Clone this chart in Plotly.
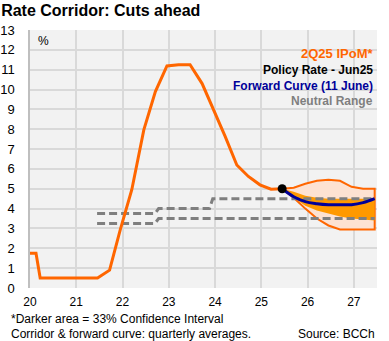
import plotly.graph_objects as go

# ---- data ----
policy_x = [2020.0, 2020.13, 2020.22, 2021.46, 2021.72, 2021.95, 2022.2, 2022.46, 2022.71,
            2022.96, 2023.21, 2023.46, 2023.72, 2023.97, 2024.22, 2024.47, 2024.72, 2024.97,
            2025.21, 2025.45]
policy_y = [1.75, 1.75, 0.5, 0.5, 0.9, 2.93, 4.95, 7.97, 9.9,
            11.19, 11.25, 11.25, 10.3, 8.98, 7.63, 6.2, 5.62, 5.2,
            4.98, 5.0]

fan_x = [2025.45, 2025.7, 2025.95, 2026.2, 2026.45, 2026.7, 2026.95, 2027.2, 2027.45]
outer_hi = [5.0, 5.05, 5.25, 5.4, 5.45, 5.4, 5.1, 5.0, 5.0]
outer_lo = [5.0, 4.55, 4.0, 3.5, 3.15, 2.95, 2.95, 2.95, 2.95]
inner_hi = [5.0, 4.85, 4.65, 4.55, 4.5, 4.5, 4.5, 4.5, 4.55]
inner_lo = [5.0, 4.55, 4.15, 3.9, 3.75, 3.6, 3.5, 3.45, 3.4]
forward_y = [5.0, 4.6, 4.35, 4.25, 4.2, 4.2, 4.2, 4.3, 4.5]

neutral_hi_x = [2021.45, 2022.7, 2022.78, 2023.88, 2023.95, 2027.45]
neutral_hi_y = [3.75, 3.75, 4.0, 4.0, 4.5, 4.5]
neutral_lo_x = [2021.45, 2022.7, 2022.78, 2027.45]
neutral_lo_y = [3.25, 3.25, 3.5, 3.5]

jun25_x = [2025.45]
jun25_y = [5.0]

year_ticks = [2020, 2021, 2022, 2023, 2024, 2025, 2026, 2027]
year_labels = ["20", "21", "22", "23", "24", "25", "26", "27"]
y_ticks = list(range(0, 14))

ORANGE = "#FF6600"
FONT = "Liberation Sans"

fig = go.Figure()

# outer fan
fig.add_trace(go.Scatter(
    x=fan_x + fan_x[::-1], y=outer_hi + outer_lo[::-1],
    fill="toself", fillcolor="#FDE2D2", mode="lines",
    line=dict(color=ORANGE, width=2), hoverinfo="skip", showlegend=False))
# inner fan
fig.add_trace(go.Scatter(
    x=fan_x + fan_x[::-1], y=inner_hi + inner_lo[::-1],
    fill="toself", fillcolor="#FF9900", mode="lines",
    line=dict(color="rgba(0,0,0,0)", width=0), hoverinfo="skip", showlegend=False))
# neutral range
for xs, ys in [(neutral_hi_x, neutral_hi_y), (neutral_lo_x, neutral_lo_y)]:
    fig.add_trace(go.Scatter(x=xs, y=ys, mode="lines",
                             line=dict(color="#7F7F7F", width=3, dash="8px,4px"),
                             showlegend=False))
# policy path
fig.add_trace(go.Scatter(x=policy_x, y=policy_y, mode="lines",
                         line=dict(color=ORANGE, width=3), showlegend=False))
# forward curve
fig.add_trace(go.Scatter(x=fan_x, y=forward_y, mode="lines",
                         line=dict(color="#000099", width=3, shape="spline"),
                         showlegend=False))
# current policy rate
fig.add_trace(go.Scatter(x=jun25_x, y=jun25_y, mode="markers",
                         marker=dict(color="black", size=9), showlegend=False))

top, bot = 30.0, 288.3
H = bot - top
L, R = 29.5, 376.7
W = R - L
def py(p):
    return (bot - p) / H
def px(p):
    return (p - L) / W

ann = []
legend_items = [("2Q25 IPoM*", ORANGE, 53.5, 13), ("Policy Rate - Jun25", "black", 70, 12),
                ("Forward Curve (11 June)", "#000099", 86, 12),
                ("Neutral Range", "#7F7F7F", 101.5, 12)]
for txt, col, p, fs in legend_items:
    ann.append(dict(text="<b>%s</b>" % txt, x=1, xshift=-2, xanchor="right",
                    y=py(p), yanchor="middle", xref="paper", yref="paper",
                    showarrow=False, font=dict(family=FONT, size=fs, color=col)))
ann.append(dict(text="%", x=px(36), xanchor="left", y=py(41), yanchor="middle",
                xref="paper", yref="paper", showarrow=False,
                font=dict(family=FONT, size=12, color="black")))
ann.append(dict(text="*Darker area = 33% Confidence Interval", x=px(8), xanchor="left",
                y=py(319.5), yanchor="middle", xref="paper", yref="paper", showarrow=False,
                font=dict(family=FONT, size=12, color="black")))
ann.append(dict(text="Corridor & forward curve: quarterly averages.", x=px(8), xanchor="left",
                y=py(334), yanchor="middle", xref="paper", yref="paper", showarrow=False,
                font=dict(family=FONT, size=12, color="black")))
ann.append(dict(text="Source: BCCh", x=1, xanchor="right",
                y=py(334), yanchor="middle", xref="paper", yref="paper", showarrow=False,
                font=dict(family=FONT, size=12, color="black")))

fig.update_layout(
    width=389, height=341,
    margin=dict(l=L, r=389 - R, t=top, b=341 - bot, autoexpand=False),
    paper_bgcolor="white", plot_bgcolor="#F2F2F2",
    title=dict(text="<b>Rate Corridor: Cuts ahead</b>", x=0.003, xanchor="left",
               xref="container", y=1 - 10 / 341, yanchor="middle", yref="container",
               font=dict(family=FONT, size=16, color="black")),
    annotations=ann,
    font=dict(family=FONT, size=12, color="black"),
)
fig.update_xaxes(range=[2020, 2027.5], tickvals=year_ticks, ticktext=year_labels,
                 showgrid=True, gridcolor="#D9D9D9", gridwidth=1.5, zeroline=False,
                 automargin=False,
                 ticks="outside", ticklen=3, tickcolor="rgba(0,0,0,0)",
                 tickfont=dict(family=FONT, size=12, color="black"))
fig.update_yaxes(range=[0, 13], tickvals=y_ticks,
                 showgrid=True, gridcolor="#D9D9D9", gridwidth=1.5, zeroline=False,
                 automargin=False,
                 showline=True, linecolor="#BFBFBF", linewidth=1.5,
                 ticks="outside", ticklen=11, tickcolor="rgba(0,0,0,0)",
                 tickfont=dict(family=FONT, size=13, color="black"))

fig.write_html("out.html")
